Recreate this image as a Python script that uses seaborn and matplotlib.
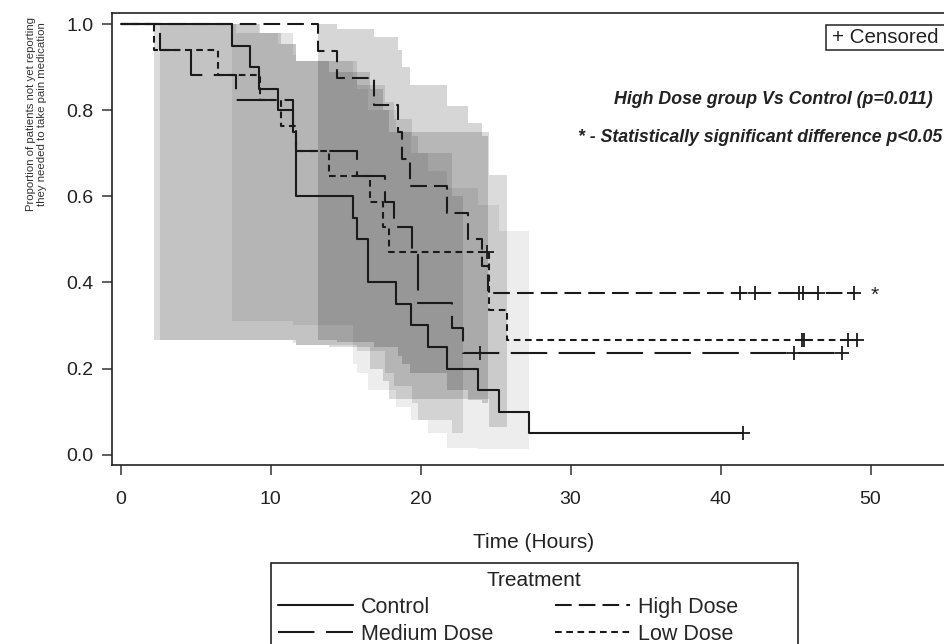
import matplotlib
matplotlib.use("Agg")
import matplotlib.pyplot as plt
import matplotlib.patches as mpatches
from matplotlib.lines import Line2D
import seaborn as sns

# ---------------- data ----------------
control_t = [0, 7.4, 8.6, 9.2, 10.5, 11.5, 11.7, 15.5, 15.75, 16.5, 18.35, 19.35, 20.5, 21.75, 23.8, 25.25, 27.2, 41.5]
control_s = [1.0, 0.95, 0.90, 0.85, 0.80, 0.75, 0.60, 0.55, 0.50, 0.40, 0.35, 0.30, 0.25, 0.20, 0.15, 0.10, 0.05, 0.05]
control_cens_t = [41.5]
control_cens_s = [0.05]

medium_t = [0, 2.6, 4.7, 7.7, 11.5, 11.7, 15.75, 17.6, 18.2, 19.4, 19.85, 22.1, 22.85, 48.1]
medium_s = [1.0, 0.941, 0.882, 0.824, 0.765, 0.706, 0.647, 0.588, 0.529, 0.471, 0.353, 0.294, 0.235, 0.235]
medium_cens_t = [23.95, 44.9, 48.1]
medium_cens_s = [0.235, 0.235, 0.235]

low_t = [0, 2.25, 6.5, 9.3, 10.7, 11.7, 13.9, 16.6, 17.5, 17.9, 24.55, 25.75, 49.1]
low_s = [1.0, 0.941, 0.882, 0.824, 0.765, 0.706, 0.647, 0.588, 0.529, 0.471, 0.336, 0.267, 0.267]
low_cens_t = [24.4, 45.4, 45.55, 48.5, 49.1]
low_cens_s = [0.471, 0.267, 0.267, 0.267, 0.267]

high_t = [0, 13.15, 14.45, 16.9, 18.5, 18.75, 19.3, 21.75, 23.15, 24.1, 24.5, 48.9]
high_s = [1.0, 0.9375, 0.875, 0.8125, 0.75, 0.6875, 0.625, 0.5625, 0.5, 0.4375, 0.375, 0.375]
high_cens_t = [41.3, 42.3, 45.2, 45.5, 46.5, 48.9]
high_cens_s = [0.375, 0.375, 0.375, 0.375, 0.375, 0.375]

# confidence bands (step functions)
control_band_t = [7.4, 8.6, 9.2, 10.5, 11.5, 11.7, 15.5, 15.75, 16.5, 18.35, 19.35, 20.5, 21.75, 23.8, 25.25, 27.2]
control_band_lo = [0.31, 0.31, 0.31, 0.31, 0.30, 0.30, 0.21, 0.19, 0.15, 0.11, 0.08, 0.05, 0.015, 0.012, 0.012, 0.012]
control_band_hi = [1.0, 1.0, 0.98, 0.955, 0.93, 0.915, 0.87, 0.85, 0.80, 0.75, 0.70, 0.66, 0.62, 0.58, 0.52, 0.52]

low_band_t = [2.25, 6.5, 9.3, 10.7, 11.7, 13.9, 16.6, 17.5, 17.9, 24.55, 25.75]
low_band_lo = [0.267, 0.267, 0.267, 0.267, 0.255, 0.25, 0.20, 0.17, 0.13, 0.065, 0.065]
low_band_hi = [1.0, 1.0, 0.98, 0.955, 0.915, 0.89, 0.85, 0.80, 0.75, 0.65, 0.65]

medium_band_t = [2.6, 4.7, 7.7, 11.5, 11.7, 15.75, 17.6, 18.2, 19.4, 19.85, 22.1, 22.85]
medium_band_lo = [0.267, 0.267, 0.267, 0.26, 0.255, 0.24, 0.19, 0.16, 0.12, 0.08, 0.05, 0.05]
medium_band_hi = [1.0, 1.0, 0.98, 0.955, 0.915, 0.86, 0.82, 0.78, 0.74, 0.70, 0.60, 0.60]

high_band_t = [13.15, 14.45, 16.9, 18.5, 18.75, 19.3, 21.75, 23.15, 24.1, 24.5]
high_band_lo = [0.267, 0.262, 0.25, 0.23, 0.21, 0.19, 0.15, 0.127, 0.12, 0.12]
high_band_hi = [1.0, 0.99, 0.97, 0.94, 0.90, 0.86, 0.81, 0.77, 0.74, 0.74]

x_ticks = [0, 10, 20, 30, 40, 50]
y_ticks = [0.0, 0.2, 0.4, 0.6, 0.8, 1.0]
y_tick_labels = ["0.0", "0.2", "0.4", "0.6", "0.8", "1.0"]
legend_labels = ["Control", "Medium Dose", "High Dose", "Low Dose"]

# ---------------- style ----------------
sns.set_theme(style="ticks")
plt.rcParams["font.family"] = ["Liberation Sans", "DejaVu Sans"]

W, H = 945, 644
fig = plt.figure(figsize=(W / 100, H / 100), dpi=100)
ax_l, ax_r, ax_t, ax_b = 112, 955, 12.7, 465
ax = fig.add_axes([ax_l / W, 1 - ax_b / H, (ax_r - ax_l) / W, (ax_b - ax_t) / H])

LW = 1.5
ls_control = "-"
ls_medium = (0, (17.5, 5.5))
ls_high = (0, (8.0, 3.4))
ls_low = (0, (3.2, 2.2))

# bands
ax.fill_between(low_band_t, low_band_lo, low_band_hi, step="post", color="black", alpha=0.14, lw=0, zorder=1)
ax.fill_between(medium_band_t, medium_band_lo, medium_band_hi, step="post", color="black", alpha=0.105, lw=0, zorder=1)
ax.fill_between(control_band_t, control_band_lo, control_band_hi, step="post", color="black", alpha=0.07, lw=0, zorder=1)
ax.fill_between(high_band_t, high_band_lo, high_band_hi, step="post", color="black", alpha=0.16, lw=0, zorder=1)

# curves
for t, s, ls in [(control_t, control_s, ls_control), (medium_t, medium_s, ls_medium),
                 (high_t, high_s, ls_high), (low_t, low_s, ls_low)]:
    sns.lineplot(x=t, y=s, ax=ax, estimator=None, sort=False, drawstyle="steps-post",
                 color="#1a1a1a", lw=LW, linestyle=ls, zorder=3)

# censor marks
for ct, cs in [(control_cens_t, control_cens_s), (medium_cens_t, medium_cens_s),
               (high_cens_t, high_cens_s), (low_cens_t, low_cens_s)]:
    sns.scatterplot(x=ct, y=cs, ax=ax, marker="+", s=110, color="#1a1a1a", linewidth=1.3, zorder=4)

ax.set_xlim(-0.57, 55.63)
ax.set_ylim(-0.0244, 1.0274)
ax.set_xticks(x_ticks)
ax.set_xticklabels([str(v) for v in x_ticks])
ax.set_yticks(y_ticks)
ax.set_yticklabels(y_tick_labels)
ax.set_xlabel("")
ax.set_ylabel("")
for sp in ax.spines.values():
    sp.set_visible(True)
    sp.set_linewidth(1.2)
    sp.set_color("#222222")
ax.tick_params(axis="both", direction="out", length=7.5, width=1.1, color="#333333",
               labelsize=14, labelcolor="#222222")
ax.tick_params(axis="x", pad=11)
ax.tick_params(axis="y", pad=6)

# asterisk at the end of the High Dose curve
ax.text(50.25, high_s[-1] - 0.004, "*", fontsize=15, ha="center", va="center", color="#222222")

# texts
fig.text(36.5 / W, 1 - 114 / H, "Proportion of patients not yet reporting\nthey needed to take pain medication",
         rotation=90, ha="center", va="center", fontsize=8.2, multialignment="center", color="#333333")
fig.text(534 / W, 1 - 543 / H, "Time (Hours)", ha="center", va="center", fontsize=15, color="#222222")

# "+ Censored" box (its right side runs off the canvas, as in the reference)
cbox = mpatches.Rectangle((826 / W, 1 - 50 / H), (960 - 826) / W, 25 / H, transform=fig.transFigure,
                          fc="white", ec="#222222", lw=1.1)
fig.add_artist(cbox)
fig.text(832 / W, 1 - 37.5 / H, "+ Censored", ha="left", va="center", fontsize=14.8, color="#222222")

fig.text(933 / W, 1 - 100 / H, "High Dose group Vs Control (p=0.011)", ha="right", va="center",
         fontsize=12.8, fontweight="bold", fontstyle="italic", color="#222222")
fig.text(578 / W, 1 - 137 / H, "* - Statistically significant difference p<0.05", ha="left", va="center",
         fontsize=12.8, fontweight="bold", fontstyle="italic", color="#222222")

# legend box (extends below the figure)
rect = mpatches.Rectangle((271 / W, -0.2), (798 - 271) / W, 0.2 + 1 - 563 / H, transform=fig.transFigure,
                          fill=False, ec="#222222", lw=1.2)
fig.add_artist(rect)
fig.text(534 / W, 1 - 580 / H, "Treatment", ha="center", va="center", fontsize=15, color="#222222")
handles = [Line2D([], [], color="#1a1a1a", lw=LW, linestyle=ls_control),
           Line2D([], [], color="#1a1a1a", lw=LW, linestyle=ls_medium),
           Line2D([], [], color="#1a1a1a", lw=LW, linestyle=ls_high),
           Line2D([], [], color="#1a1a1a", lw=LW, linestyle=ls_low)]
fig.legend(handles, legend_labels, ncol=2, loc="upper left", bbox_to_anchor=(278 / W, 1 - 597 / H),
           frameon=False, fontsize=15.5, handlelength=3.5, handletextpad=0.37, columnspacing=2.84,
           labelspacing=0.28, borderpad=0, borderaxespad=0)

fig.savefig("out.png", dpi=100)
